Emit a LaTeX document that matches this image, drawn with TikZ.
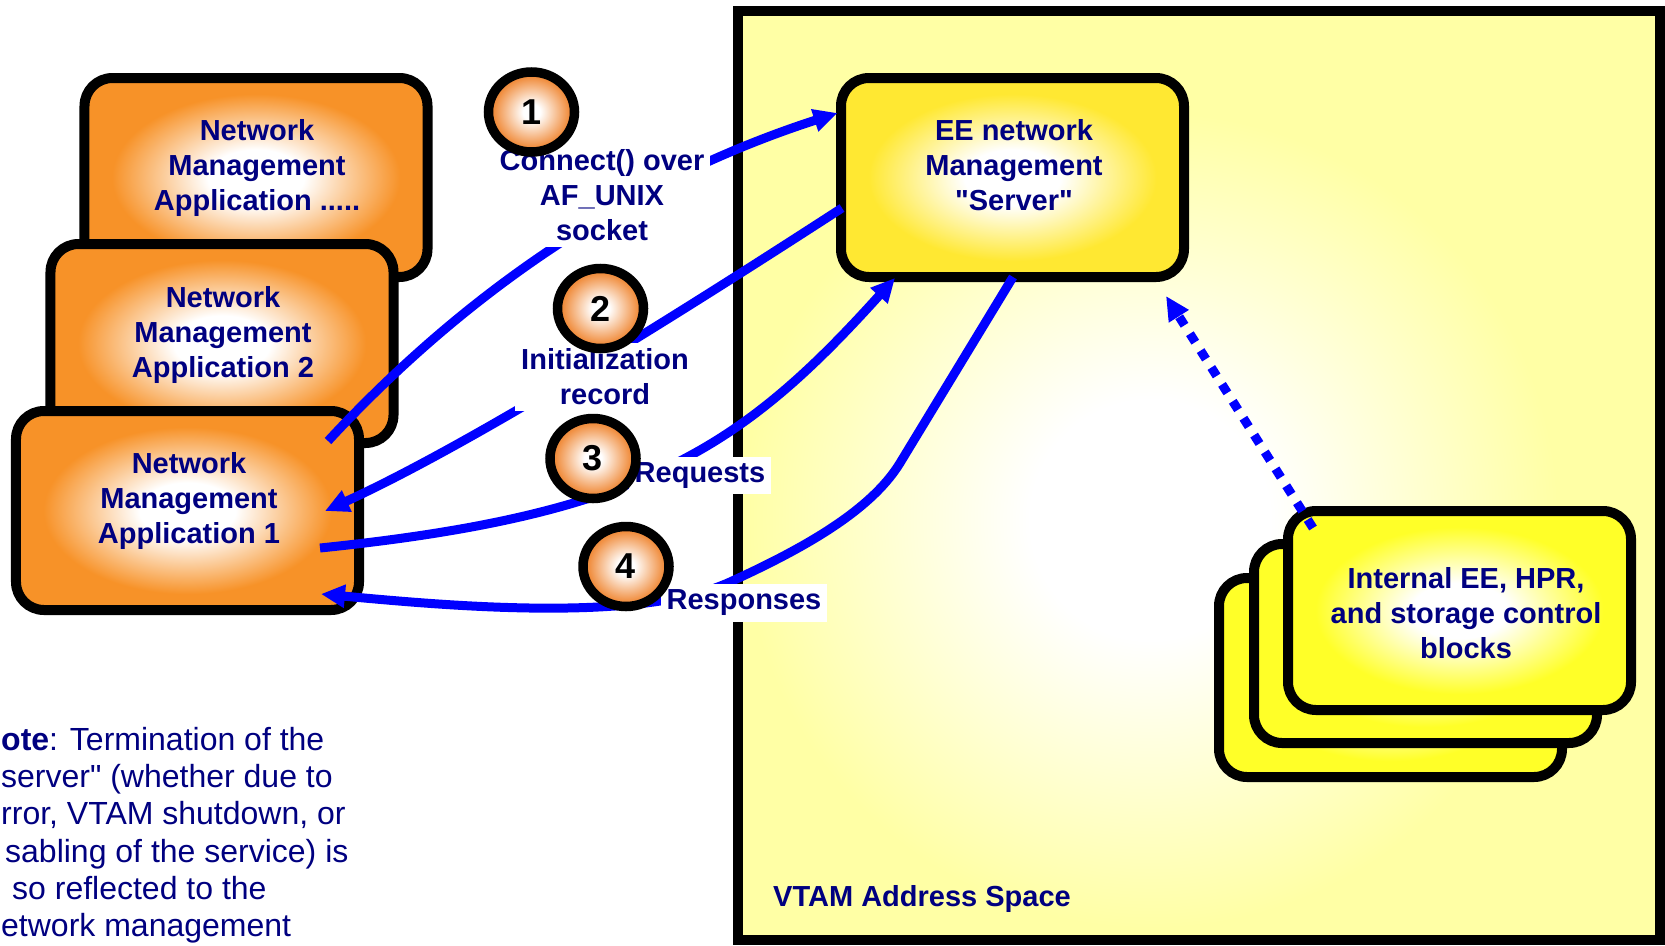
\documentclass[tikz,border=0pt]{standalone}
\usepackage{fontspec}
\setmainfont{Liberation Sans}[Ligatures=TeXOff]
\usetikzlibrary{arrows.meta,shapes.geometric,calc}
\definecolor{navytext}{RGB}{0,0,128}
\definecolor{apporange}{RGB}{247,146,40}
\definecolor{circorange}{RGB}{240,140,60}
\definecolor{srvyellow}{RGB}{255,232,50}
\definecolor{intyellow}{RGB}{255,255,40}
\definecolor{vtamyellow}{RGB}{255,255,165}
\definecolor{arrowblue}{RGB}{0,0,255}
\pgfdeclareradialshading{orangeglow}{\pgfpoint{0bp}{0bp}}{color(0bp)=(white); color(7bp)=(white); color(21bp)=(apporange); color(40bp)=(apporange)}
\pgfdeclareradialshading{circglow}{\pgfpoint{0bp}{0bp}}{color(0bp)=(white); color(5bp)=(white); color(22bp)=(circorange); color(40bp)=(circorange)}
\pgfdeclareradialshading{srvglow}{\pgfpoint{0bp}{0bp}}{color(0bp)=(white); color(7bp)=(white); color(21bp)=(srvyellow); color(40bp)=(srvyellow)}
\pgfdeclareradialshading{intglow}{\pgfpoint{0bp}{0bp}}{color(0bp)=(white); color(7bp)=(white); color(21bp)=(intyellow); color(40bp)=(intyellow)}
\pgfdeclareradialshading{vtamglow}{\pgfpoint{0bp}{0bp}}{color(0bp)=(white); color(5bp)=(white); color(17bp)=(vtamyellow); color(40bp)=(vtamyellow)}
\tikzset{
  roundbox/.style={draw=black, line width=10bp, rounded corners=28bp, minimum width=343bp, minimum height=199bp, inner sep=0pt, shade},
  appbox/.style={roundbox, shading=orangeglow},
  srvbox/.style={roundbox, shading=srvglow},
  intbox/.style={roundbox, shading=intglow},
  boxtext/.style={text=navytext, font=\bfseries\fontsize{29bp}{35bp}\selectfont, align=center, inner sep=0pt},
  steplabel/.style={boxtext, fill=white, inner sep=6bp},
  numcircle/.style={ellipse, draw=black, line width=9.5bp, minimum width=86bp, minimum height=80bp, inner sep=0pt, shade, shading=circglow, text=black, font=\bfseries\fontsize{36bp}{40bp}\selectfont},
  conn/.style={draw=arrowblue, line width=9bp, -{Triangle[length=24bp,width=22bp]}},
  dotconn/.style={conn, dash pattern=on 10bp off 10bp},
  notetext/.style={text=navytext, font=\fontsize{32bp}{37.2bp}\selectfont, align=left, inner sep=0pt}
}
\begin{document}
\begin{tikzpicture}[x=1bp,y=-1bp]
\useasboundingbox (0,0) rectangle (1665,945);
\clip (0,0) rectangle (1665,945);
% VTAM address space
\fill[vtamyellow] (738,11) rectangle (1660,940);
\begin{scope}
  \clip (738,11) rectangle (1660,940);
  \shade[shading=vtamglow] (550,-80) rectangle (1750,1120);
\end{scope}
\node[draw=black, line width=10bp, minimum width=922bp, minimum height=929bp, inner sep=0pt] (vtam) at (1199,475.5) {};
\node[boxtext, anchor=base west] (vtamlabel) at (773,906) {VTAM Address Space};
% applications
\node[appbox] (app3) at (256,177.5) {};
\node[boxtext] (app3t) at (257,168) {Network\\Management\\Application .....};
\node[appbox] (app2) at (222,343.5) {};
\node[boxtext] (app2t) at (223,335) {Network\\Management\\Application 2};
\node[appbox] (app1) at (187.5,510.5) {};
\node[boxtext] (app1t) at (189,501) {Network\\Management\\Application 1};
% server
\node[srvbox] (srv) at (1012.5,177.5) {};
\node[boxtext] (srvt) at (1014,165) {EE network\\Management\\"Server"};
% internal blocks
\node[intbox] (int3) at (1390.5,677.5) {};
\node[intbox] (int2) at (1425.5,643.5) {};
\node[intbox] (int1) at (1459.5,610.5) {};
\node[boxtext] (int1t) at (1466,613) {Internal EE, HPR,\\and storage control\\blocks};
% connectors
\draw[conn] ($(app1.center)+(140.5,-69.5)$) .. controls (440,320) and (600,190) .. ($(srv.center)+(-175,-64.5)$);
\draw[conn] ($(srv.center)+(-170.5,30.5)$) .. controls (700,300) and (480,440) .. ($(app1.center)+(137.5,0.5)$);
\draw[conn] ($(app1.center)+(132.5,37.5)$) .. controls (640,515) and (740,450) .. ($(srv.center)+(-117.5,100.5)$);
\draw[conn] ($(srv.center)+(0.5,99.5)$) -- (900,463) .. controls (870,512) and (800,550) .. (730,582) .. controls (640,623) and (450,606) .. ($(app1.center)+(133.5,83.5)$);
\draw[dotconn] ($(int1.center)+(-146.5,-82.5)$) -- ($(srv.center)+(153.5,118.5)$);
% step labels
\node[steplabel] (l1) at (602,195.5) {Connect() over\\AF\_UNIX\\socket};
\node[steplabel] (l2) at (605,377) {Initialization\\record};
\node[steplabel] (l3) at (700,475.5) {Requests};
\node[steplabel] (l4) at (744,603) {Responses};
% numbered circles
\node[numcircle] (c1) at (531.5,112) {1};
\node[numcircle] (c2) at (600.5,308.5) {2};
\node[numcircle] (c3) at (593,458.5) {3};
\node[numcircle] (c4) at (626,566.5) {4};
% note (left part cut off in the reference)
\node[notetext, anchor=north west] (note) at (1,727) {\textbf{ote}: Termination of the\\server" (whether due to\\rror, VTAM shutdown, or\\\hspace*{4bp}sabling of the service) is\\\hspace*{11bp}so reflected to the\\etwork management};
\end{tikzpicture}
\end{document}
